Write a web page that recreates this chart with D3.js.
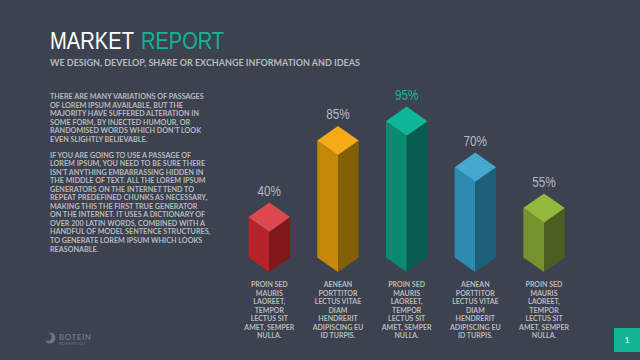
<!DOCTYPE html>
<html>
<head>
<meta charset="utf-8">
<script src="https://cdn.jsdelivr.net/npm/d3@7"></script>
<style>
  html, body { margin: 0; padding: 0; background: #3d4250; overflow: hidden; }
  svg { display: block; }
  .copy { font-family: Lato, sans-serif; font-weight: 700; fill: #b9b9bb; }
</style>
</head>
<body>
<div id="chart"></div>
<script>
const barIds = ["a", "b", "c", "d", "e"];
const percentLabels = ["40%", "85%", "95%", "70%", "55%"];
// heights as drawn, the picture does not follow its printed percentages exactly
const barHeights = [36, 75.7, 85.7, 61.9, 40.7];
const topColors = ["#dc4a50", "#f5ab18", "#10b698", "#45a8cf", "#93b83c"];
const leftColors = ["#b62228", "#c4880a", "#0b8a72", "#2e8bb0", "#75922c"];
const rightColors = ["#7f171b", "#836006", "#075e50", "#1e6079", "#4c5f20"];
const captionA = ["PROIN SED", "MAURIS", "LAOREET,", "TEMPOR", "LECTUS SIT", "AMET, SEMPER", "NULLA."];
const captionB = ["AENEAN", "PORTTITOR", "LECTUS VITAE", "DIAM", "HENDRERIT", "ADIPISCING EU", "ID TURPIS."];
const captions = [captionA, captionB, captionA, captionB, captionA];
const introLines = [
  "THERE ARE MANY VARIATIONS OF PASSAGES",
  "OF LOREM IPSUM AVAILABLE, BUT THE",
  "MAJORITY HAVE SUFFERED ALTERATION IN",
  "SOME FORM, BY INJECTED HUMOUR, OR",
  "RANDOMISED WORDS WHICH DON'T LOOK",
  "EVEN SLIGHTLY BELIEVABLE."
];
const detailLines = [
  "IF YOU ARE GOING TO USE A PASSAGE OF",
  "LOREM IPSUM, YOU NEED TO BE SURE THERE",
  "ISN'T ANYTHING EMBARRASSING HIDDEN IN",
  "THE MIDDLE OF TEXT. ALL THE LOREM IPSUM",
  "GENERATORS ON THE INTERNET TEND TO",
  "REPEAT PREDEFINED CHUNKS AS NECESSARY,",
  "MAKING THIS THE FIRST TRUE GENERATOR",
  "ON THE INTERNET. IT USES A DICTIONARY OF",
  "OVER 200 LATIN WORDS, COMBINED WITH A",
  "HANDFUL OF MODEL SENTENCE STRUCTURES,",
  "TO GENERATE LOREM IPSUM WHICH LOOKS",
  "REASONABLE."
];

const width = 640;
const height = 360;
const halfW = 20.7;
const halfD = 14.6;

const svg = d3.select("#chart").append("svg")
  .attr("width", width)
  .attr("height", height);

svg.append("rect")
  .attr("width", width)
  .attr("height", height)
  .attr("fill", "#3d4250");

const x = d3.scalePoint().domain(barIds).range([269.3, 544]);
const y = d3.scaleLinear().domain([0, 100]).range([272, 79]);

const bars = barIds.map((id, i) => ({
  id: id,
  label: percentLabels[i],
  h: barHeights[i],
  top: topColors[i],
  left: leftColors[i],
  right: rightColors[i],
  caption: captions[i]
}));

const face = d3.line();

const bar = svg.selectAll(".bar")
  .data(bars)
  .enter()
  .append("g")
  .attr("class", "bar");

// y(d.h) is the far corner of the top diamond, y(0) the near corner of the floor
bar.append("path")
  .attr("fill", d => d.left)
  .attr("d", d => {
    const c = x(d.id);
    return face([[c - halfW, y(d.h) + halfD], [c, y(d.h) + 2 * halfD], [c, y(0)], [c - halfW, y(0) - halfD]]) + "Z";
  });

bar.append("path")
  .attr("fill", d => d.right)
  .attr("d", d => {
    const c = x(d.id);
    return face([[c, y(d.h) + 2 * halfD], [c + halfW, y(d.h) + halfD], [c + halfW, y(0) - halfD], [c, y(0)]]) + "Z";
  });

bar.append("path")
  .attr("fill", d => d.top)
  .attr("d", d => {
    const c = x(d.id);
    return face([[c, y(d.h)], [c + halfW, y(d.h) + halfD], [c, y(d.h) + 2 * halfD], [c - halfW, y(d.h) + halfD]]) + "Z";
  });

bar.append("text")
  .attr("x", d => x(d.id))
  .attr("y", d => y(d.h) - 6.5)
  .attr("text-anchor", "middle")
  .attr("font-family", "Liberation Sans, sans-serif")
  .attr("font-size", 14)
  .attr("textLength", 23.5)
  .attr("lengthAdjust", "spacingAndGlyphs")
  .attr("fill", (d, i) => i === 2 ? "#14b497" : "#b5b8c0")
  .text(d => d.label);

bar.each(function(d) {
  d3.select(this).selectAll(".caption")
    .data(d.caption)
    .enter()
    .append("text")
    .attr("class", "copy caption")
    .attr("x", x(d.id))
    .attr("y", (t, i) => 287 + i * 8.55)
    .attr("text-anchor", "middle")
    .attr("font-size", 7)
    .text(t => t);
});

function addTitleWord(word, left, len, color) {
  svg.append("text")
    .attr("x", left)
    .attr("y", 49)
    .attr("font-family", "Liberation Sans, sans-serif")
    .attr("font-size", 23)
    .attr("textLength", len)
    .attr("lengthAdjust", "spacingAndGlyphs")
    .attr("fill", color)
    .text(word);
}

addTitleWord("MARKET", 50, 84, "#ffffff");
addTitleWord("REPORT", 141, 83, "#14b497");

svg.append("text")
  .attr("class", "copy")
  .attr("x", 50)
  .attr("y", 66)
  .attr("font-size", 9)
  .text("WE DESIGN, DEVELOP, SHARE OR EXCHANGE INFORMATION AND IDEAS");

function addParagraph(lines, y0) {
  svg.selectAll(null)
    .data(lines)
    .enter()
    .append("text")
    .attr("class", "copy")
    .attr("x", 50)
    .attr("y", (t, i) => y0 + i * 8.55)
    .attr("font-size", 7.2)
    .text(t => t);
}

addParagraph(introLines, 99);
addParagraph(detailLines, 157.5);

// logo
const logo = svg.append("g").attr("fill", "#6f7481");
logo.append("circle").attr("cx", 50).attr("cy", 338).attr("r", 5.5);
logo.append("circle").attr("cx", 47.5).attr("cy", 337).attr("r", 4).attr("fill", "#3d4250");
logo.append("text")
  .attr("x", 59)
  .attr("y", 340)
  .attr("font-family", "Lato, sans-serif")
  .attr("font-weight", 700)
  .attr("font-size", 8)
  .attr("letter-spacing", 0.5)
  .text("BOTEIN");
logo.append("text")
  .attr("x", 59)
  .attr("y", 345)
  .attr("font-family", "Lato, sans-serif")
  .attr("font-size", 3.6)
  .attr("letter-spacing", 0.3)
  .text("POWERPOINT");

// page number
svg.append("rect")
  .attr("x", 614)
  .attr("y", 328)
  .attr("width", 26)
  .attr("height", 24)
  .attr("fill", "#14b497");
svg.append("text")
  .attr("x", 627)
  .attr("y", 343)
  .attr("text-anchor", "middle")
  .attr("font-family", "Lato, sans-serif")
  .attr("font-size", 8)
  .attr("fill", "#ffffff")
  .text("1");
</script>
</body>
</html>
